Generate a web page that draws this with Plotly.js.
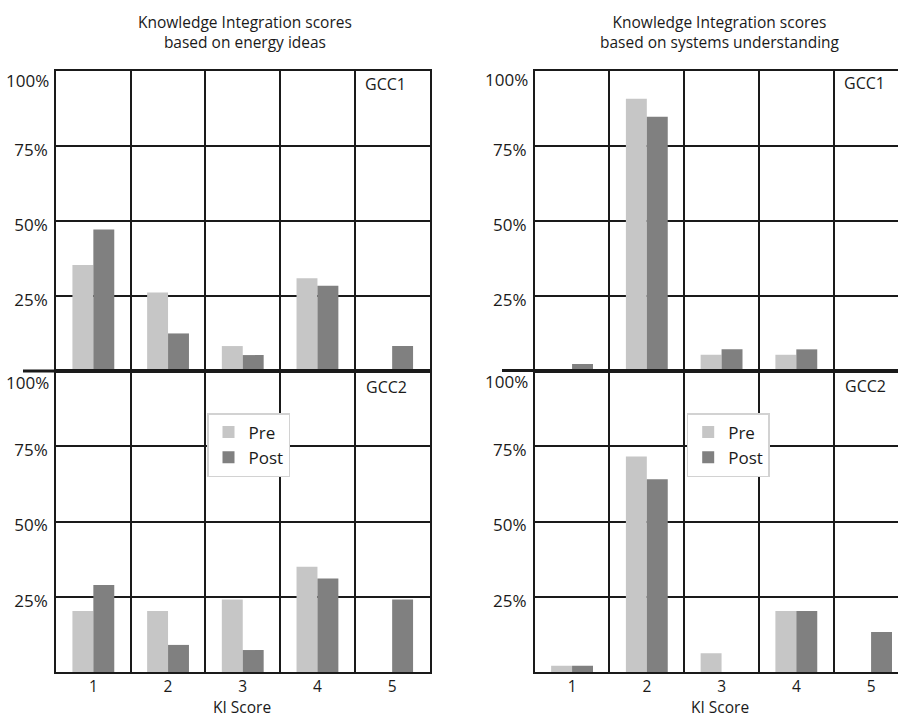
<!DOCTYPE html>
<html>
<head>
<meta charset="utf-8">
<script src="https://cdn.plot.ly/plotly-3.0.1.min.js"></script>
<style>html,body{margin:0;padding:0;background:#fff;}#chart{width:898px;height:718px;}</style>
</head>
<body>
<div id="chart"></div>
<script>
// ---- data ----
const kiScores = [1, 2, 3, 4, 5];
const tickLabelsX = ["1", "2", "3", "4", "5"];
const yTickVals = [25, 50, 75, 100];
const yTickText = ["25%", "50%", "75%", ""];   // "100%" is placed as its own label below the top line
const topLabel = "100%";
const seriesNames = ["Pre", "Post"];

const energyGcc1Pre  = [35.3, 26.1, 8.3, 30.9, 0];
const energyGcc1Post = [47.1, 12.5, 5.3, 28.4, 8.3];
const energyGcc2Pre  = [20.3, 20.3, 24.1, 35.0, 0];
const energyGcc2Post = [28.9, 9.0, 7.3, 31.1, 24.1];

const systemsGcc1Pre  = [0, 90.6, 5.4, 5.4, 0];
const systemsGcc1Post = [2.3, 84.6, 7.2, 7.2, 0];
const systemsGcc2Pre  = [2.1, 71.6, 6.2, 20.3, 0];
const systemsGcc2Post = [2.1, 64.0, 0, 20.3, 13.3];

const panelTitles = ["Knowledge Integration scores<br>based on energy ideas",
                     "Knowledge Integration scores<br>based on systems understanding"];
const groupLabels = ["GCC1", "GCC2"];
const xTitle = "KI Score";

// ---- styling ----
const FONT = "Open Sans, sans-serif";
const INK = "#1a1a1a";
const PRE = "#c6c6c6";
const POST = "#808080";
const W = 898, H = 718;
const px = v => v / W;
const py = v => 1 - v / H;

function bar(y, name, color, xa, ya, showlegend, legend) {
  return {type: "bar", x: kiScores, y: y, name: name, xaxis: xa, yaxis: ya,
          marker: {color: color, line: {width: 0}}, showlegend: showlegend,
          legend: legend, hoverinfo: "x+y+name"};
}

const data = [
  bar(energyGcc1Pre,  seriesNames[0], PRE,  "x",  "y",  false, "legend"),
  bar(energyGcc1Post, seriesNames[1], POST, "x",  "y",  false, "legend"),
  bar(energyGcc2Pre,  seriesNames[0], PRE,  "x2", "y2", true,  "legend"),
  bar(energyGcc2Post, seriesNames[1], POST, "x2", "y2", true,  "legend"),
  bar(systemsGcc1Pre,  seriesNames[0], PRE,  "x3", "y3", false, "legend2"),
  bar(systemsGcc1Post, seriesNames[1], POST, "x3", "y3", false, "legend2"),
  bar(systemsGcc2Pre,  seriesNames[0], PRE,  "x4", "y4", true,  "legend2"),
  bar(systemsGcc2Post, seriesNames[1], POST, "x4", "y4", true,  "legend2")
];

const leftDom = [px(56), px(429.5)];
const rightDom = [px(534.7), 1];
const topDom = [py(371), py(70.5)];
const botDom = [py(672), py(371)];
const rightRange = [0.5, 0.5 + (W - 534.7) / 74.75];

function xaxis(dom, range, anchor, showLabels) {
  return {domain: dom, range: range, anchor: anchor, type: "linear", fixedrange: true,
    tickmode: "array", tickvals: kiScores, ticktext: tickLabelsX,
    showticklabels: showLabels, ticks: "", showgrid: false, zeroline: false,
    showline: true, mirror: true, linecolor: INK, linewidth: 1.5,
    tickfont: {family: FONT, size: 15.5, color: INK}, ticklabelstandoff: 0,
    minor: {tickmode: "array", tickvals: [1.5, 2.5, 3.5, 4.5], showgrid: true,
            gridcolor: INK, gridwidth: 1.5, ticks: ""}};
}
function yaxis(dom, anchor, mirror) {
  return {domain: dom, range: [0, 100], anchor: anchor, fixedrange: true,
    tickmode: "array", tickvals: yTickVals, ticktext: yTickText, ticks: "",
    showgrid: true, gridcolor: INK, gridwidth: 1.5, zeroline: false,
    showline: true, mirror: mirror, linecolor: INK, linewidth: 1.5,
    tickfont: {family: FONT, size: 17, color: INK}, ticklabelstandoff: 3,
    ticklabelshift: 4};
}

const legendStyle = (x) => ({x: x, y: py(413), xanchor: "left", yanchor: "top",
  bgcolor: "#ffffff", bordercolor: "#d2d2d2", borderwidth: 1.5,
  font: {family: FONT, size: 17, color: INK}, traceorder: "normal",
  tracegroupgap: 0, itemclick: false, itemdoubleclick: false});

const annFont = {family: FONT, size: 15.5, color: INK};
const gccFont = {family: FONT, size: 16, color: INK};
const tickFont = {family: FONT, size: 17, color: INK};
function note(text, x, y, font, xanchor) {
  return {text: text, xref: "paper", yref: "paper", x: px(x), y: py(y),
          xanchor: xanchor || "center", yanchor: "middle", showarrow: false, font: font};
}

const layout = {
  width: W, height: H, margin: {l: 0, r: 0, t: 0, b: 0},
  paper_bgcolor: "#ffffff", plot_bgcolor: "#ffffff",
  barmode: "group", bargap: 0.44, bargroupgap: 0,
  font: {family: FONT, color: INK},
  xaxis: xaxis(leftDom, [0.5, 5.5], "y", false),
  yaxis: yaxis(topDom, "x", true),
  xaxis2: xaxis(leftDom, [0.5, 5.5], "y2", true),
  yaxis2: yaxis(botDom, "x2", true),
  xaxis3: xaxis(rightDom, rightRange, "y3", false),
  yaxis3: yaxis(topDom, "x3", false),
  xaxis4: xaxis(rightDom, rightRange, "y4", true),
  yaxis4: yaxis(botDom, "x4", false),
  legend: legendStyle(px(207)),
  legend2: legendStyle(px(686.7)),
  shapes: [
    {type: "line", xref: "paper", yref: "paper", x0: px(23), x1: px(429.5),
     y0: py(371), y1: py(371), line: {color: INK, width: 3}, layer: "above"},
    {type: "line", xref: "paper", yref: "paper", x0: px(502), x1: 1,
     y0: py(370.5), y1: py(370.5), line: {color: INK, width: 3}, layer: "above"}
  ],
  annotations: [
    note(panelTitles[0], 245, 32.5, annFont),
    note(panelTitles[1], 720, 32, annFont),
    note(groupLabels[0], 385, 84, gccFont),
    note(groupLabels[1], 386, 387, gccFont),
    note(groupLabels[0], 864, 83, gccFont),
    note(groupLabels[1], 865, 386, gccFont),
    note(topLabel, 51, 81, tickFont, "right"),
    note(topLabel, 51, 382, tickFont, "right"),
    note(topLabel, 530, 80, tickFont, "right"),
    note(topLabel, 530, 381, tickFont, "right"),
    note(xTitle, 242, 707, {family: FONT, size: 15.5, color: INK}),
    note(xTitle, 720, 707, {family: FONT, size: 15.5, color: INK})
  ]
};

Plotly.newPlot("chart", data, layout, {displayModeBar: false, responsive: false});
</script>
</body>
</html>
